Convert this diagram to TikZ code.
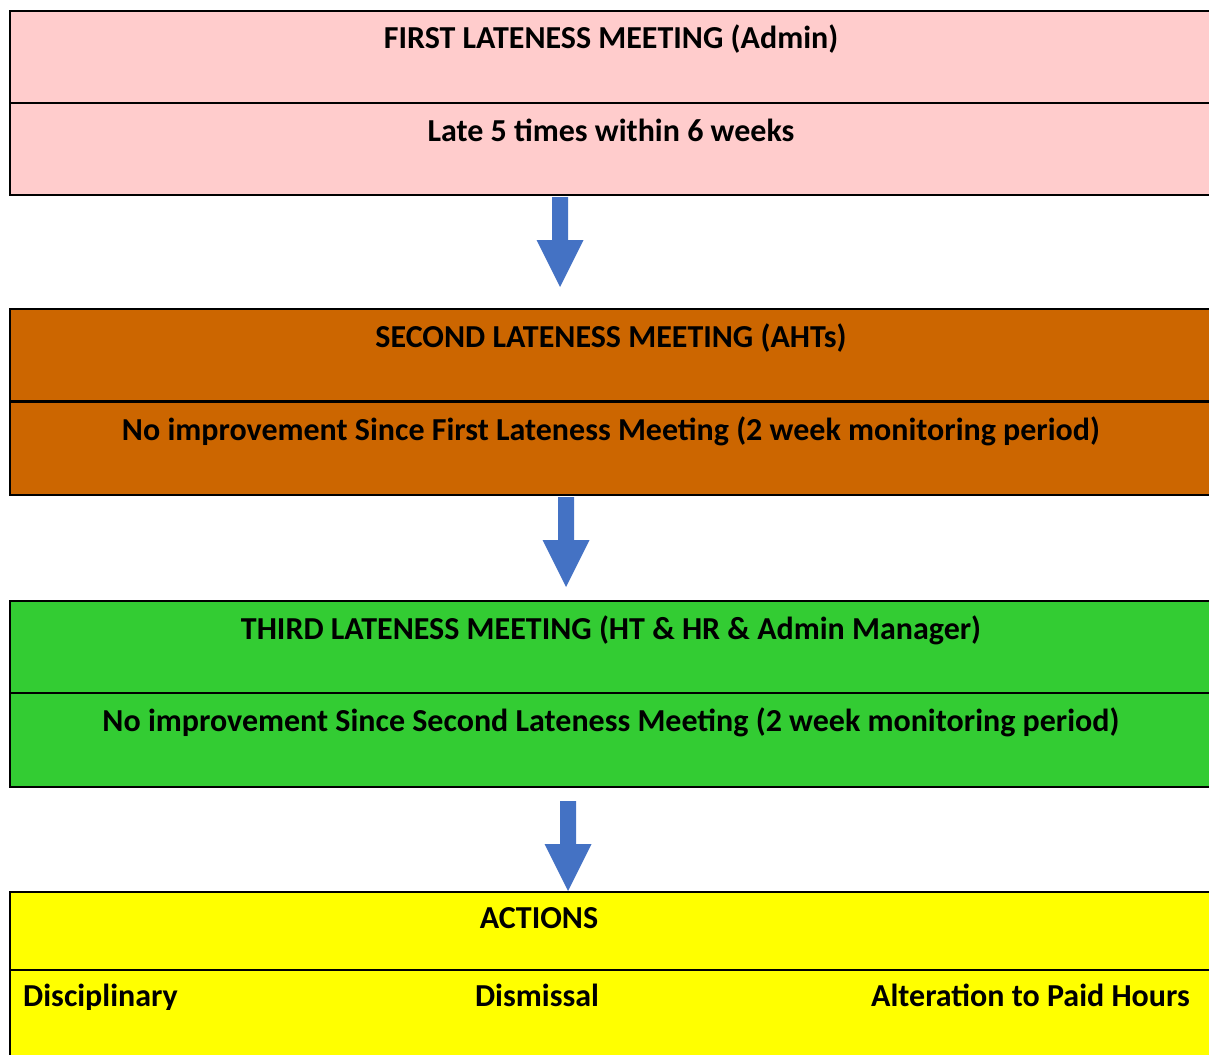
\documentclass[tikz,border=0pt]{standalone}
\usepackage{fontspec}
\setmainfont{Carlito}
\usetikzlibrary{positioning}
\definecolor{pinkrow}{HTML}{FFCCCC}
\definecolor{orangerow}{HTML}{CC6600}
\definecolor{greenrow}{HTML}{33CC33}
\definecolor{yellowrow}{HTML}{FFFF00}
\definecolor{arrowblue}{HTML}{4472C4}
\tikzset{
  row/.style={draw=black,line width=2pt,anchor=north west,inner sep=0pt,
    minimum width=1202pt,minimum height=92pt},
  rowtext/.style={font=\bfseries\fontsize{32}{36}\selectfont,anchor=base,inner sep=0pt},
  blockarrow/.pic={\fill[arrowblue] (-8,0) -- (8,0) -- (8,43) -- (23.5,43)
    -- (0,90) -- (-23.5,43) -- (-8,43) -- cycle;}
}
\begin{document}
\begin{tikzpicture}[x=1pt,y=-1pt]
    \useasboundingbox (0,0) rectangle (1209,1054);
    \clip (0,0) rectangle (1209,1054);

    % first meeting
    \node[row,fill=pinkrow] (m1a) at (9,10) {};
    \node[row,fill=pinkrow] (m1b) at (9,102) {};
    \node[rowtext] (t1a) at ([yshift=-39pt]m1a.north) {FIRST LATENESS MEETING (Admin)};
    \node[rowtext] (t1b) at ([yshift=-39pt]m1b.north) {Late 5 times within 6 weeks};

    % second meeting
    \node[row,fill=orangerow] (m2a) at (9,308) {};
    \node[row,fill=orangerow,minimum height=93pt] (m2b) at (9,401) {};
    \node[rowtext] (t2a) at ([yshift=-39pt]m2a.north) {SECOND LATENESS MEETING (AHTs)};
    \node[rowtext] (t2b) at ([yshift=-39pt]m2b.north)
        {No improvement Since First Lateness Meeting (2 week monitoring period)};

    % third meeting
    \node[row,fill=greenrow] (m3a) at (9,600) {};
    \node[row,fill=greenrow,minimum height=94pt] (m3b) at (9,692) {};
    \node[rowtext] (t3a) at ([yshift=-39pt]m3a.north)
        {THIRD LATENESS MEETING (HT \& HR \& Admin Manager)};
    \node[rowtext] (t3b) at ([yshift=-39pt]m3b.north)
        {No improvement Since Second Lateness Meeting (2 week monitoring period)};

    % actions
    \node[row,fill=yellowrow,minimum height=78pt] (m4a) at (9,891) {};
    \node[row,fill=yellowrow,minimum height=120pt] (m4b) at (9,969) {};
    \node[rowtext] (t4a) at ([xshift=-72pt,yshift=-37pt]m4a.north) {ACTIONS};
    \begin{scope}
        \clip (0,969) rectangle (1209,1009);
        \node[rowtext,anchor=base west] (t4b) at ([xshift=14pt,yshift=-37pt]m4b.north west)
            {Disciplinary};
        \node[rowtext] (t4c) at ([xshift=-74pt,yshift=-37pt]m4b.north) {Dismissal};
        \node[rowtext,anchor=base east] (t4d) at ([xshift=-19pt,yshift=-37pt]m4b.north east -| 1209,0)
            {Alteration to Paid Hours};
    \end{scope}

    % arrows between meetings
    \pic at ([xshift=-51pt,yshift=-1pt]m1b.south) {blockarrow};
    \pic at ([xshift=-45pt,yshift=-1pt]m2b.south) {blockarrow};
    \pic at ([xshift=-43pt,yshift=-13pt]m3b.south) {blockarrow};
\end{tikzpicture}
\end{document}
